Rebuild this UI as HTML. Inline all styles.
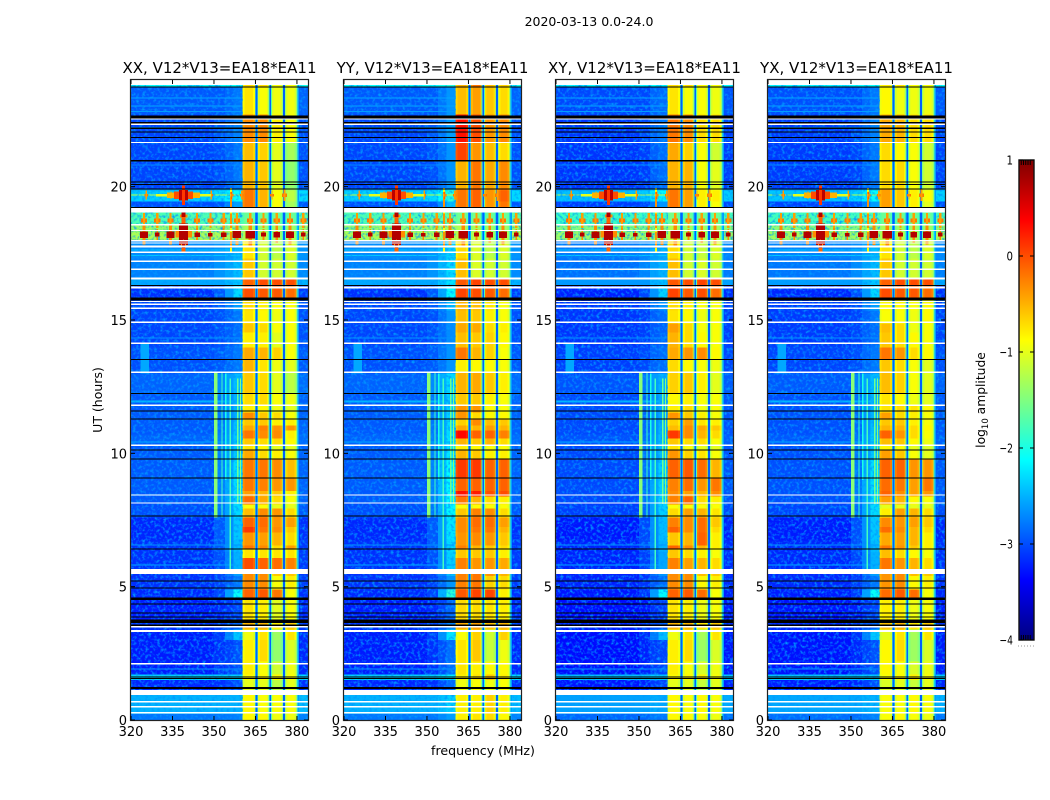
<!DOCTYPE html>
<html>
<head>
<meta charset="utf-8">
<title>2020-03-13 0.0-24.0</title>
<style>
html,body{margin:0;padding:0;background:#fff;}
svg{display:block;}
text{font-family:"DejaVu Sans","Liberation Sans",sans-serif;fill:#000;}
</style>
</head>
<body>
<svg id="chart" width="1050" height="800" viewBox="0 0 1050 800" xmlns="http://www.w3.org/2000/svg">
<defs>
<filter id="speckle" x="0" y="0" width="100%" height="100%" color-interpolation-filters="sRGB">
<feTurbulence type="fractalNoise" baseFrequency="0.33" numOctaves="2" seed="7"/>
<feColorMatrix type="matrix" values="0 0 0 0 0  0 0 0 0 0.6  0 0 0 0 1  2.6 0 0 0 -1.2"/>
</filter>
<linearGradient id="cbar-gradient" x1="0" y1="1" x2="0" y2="0"></linearGradient>
</defs>
<text x="589" y="26" font-size="12.5" text-anchor="middle">2020-03-13 0.0-24.0</text>
<text x="0" y="0" font-size="12.5" text-anchor="middle" transform="translate(102,400) rotate(-90)">UT (hours)</text>
<text x="483" y="755" font-size="12.6" text-anchor="middle">frequency (MHz)</text>
<text x="0" y="0" font-size="12.3" text-anchor="middle" transform="translate(985,400) rotate(-90)">log<tspan font-size="8.5" dy="3">10</tspan><tspan dy="-3"> amplitude</tspan></text>
</svg>
<script>
// ---- data ----
const panelTitles = ["XX, V12*V13=EA18*EA11","YY, V12*V13=EA18*EA11","XY, V12*V13=EA18*EA11","YX, V12*V13=EA18*EA11"];
const freqTicks = [320,335,350,365,380];
const hourTicks = [0,5,10,15,20];
const colorTicks = [1,0,-1,-2,-3,-4];
// Columns: MHz edges and the profile slot each column reads
// 0 bg, 1 mid, 2 shoulder-blend, 3 shoulder, 4-7 band core, 14-17 band margin, 8 gap, 9 flank, 10 upper edge, 11 outer edge
const colEdges = [320,350,354,357,360.4,
  361,364.2,364.8,365.1,365.7,366,
  366.6,369.1,369.7,370,370.6,370.9,
  371.5,374.1,374.7,375,375.6,375.9,
  376.5,379.2,379.8,380.2,380.8,384];
const colSlots = [0,1,2,3,
  14,4,14,9,8,9,
  15,5,15,9,8,9,
  16,6,16,9,8,9,
  17,7,17,9,10,11];
// Row start hours with log10 amplitude: bg, mid, shoulder, band1..band4
const rowProfiles = [
[0,-2.8,-2.8,-2.75,-.85,-.85,-.95,-.95],
[.22,-2.5,-2.5,-2.5,-.85,-.9,-.9,-.9],
[1.13,-3.2,-3.15,-3,-1,-1,-1.2,-1],
[1.5,-2.35,-2.35,-2.35,-.85,-.85,-.85,-.9],
[1.7,-3.25,-3.15,-3,-.8,-.9,-1.1,-.95],
[2.2,-3.25,-3.15,-3,-.8,-.7,-1.4,-1.05],
[3.0,-3.25,-3.1,-2.4,-.95,-.75,-1.35,-.75],
[3.4,-3.15,-3.05,-2.9,-.5,-.5,-.8,-.6],
[3.75,-3.25,-3.2,-3.05,-.75,-.8,-1,-.9],
[4.5,-3.2,-3.05,-2.1,-.1,-.05,-.2,-.9],
[4.9,-3.15,-3.05,-2.8,-.3,-.3,-.9,-.8],
[5.4,-3.15,-3.05,-2.6,-.3,-.3,-.6,-.6],
[5.66,-3.15,-3,-2.5,-.1,-.2,-.3,-.3],
[6.0,-3.15,-3,-2.5,-.9,-.9,-.9,-.9],
[6.3,-3.15,-2.95,-2.45,-.5,-.6,-.9,-.5],
[6.74,-3.2,-2.95,-2.4,-.1,-.3,-.3,-.4],
[7.6,-3,-2.8,-2.3,-.6,-.6,-.8,-.8],
[8.13,-2.95,-2.75,-2.3,-.3,-.4,-.5,-.5],
[9.06,-2.95,-2.75,-2.3,-.35,-.35,-.35,-.75],
[9.74,-2.95,-2.75,-2.4,-.8,-.8,-.8,-.85],
[10.3,-2.9,-2.75,-2.4,-.35,-.4,-.45,-.4],
[10.7,-2.95,-2.8,-2.45,-.6,-.7,-.8,-.9],
[11.2,-2.95,-2.8,-2.5,-.55,-.8,-.8,-.9],
[12.2,-2.9,-2.7,-2.45,-.6,-.6,-.8,-.9],
[13.0,-3,-2.95,-2.8,-.8,-.8,-.9,-.9],
[14.0,-3.05,-3,-2.85,-.75,-.85,-.95,-.9],
[14.87,-3.05,-3,-2.8,-.75,-.85,-.95,-.9],
[15.35,-3.05,-2.95,-2.6,-.7,-.8,-.9,-.9],
[15.8,-3.15,-2.95,-2.3,0,-.05,-.05,-.15],
[16.3,-2.55,-2.55,-2.4,-.1,0,0,0],
[16.55,-2.75,-2.65,-2.45,-.6,-1.1,-1.1,-1.1],
[17.3,-2.7,-2.65,-2.5,-.75,-1.1,-1.2,-1.05],
[18.0,-1.3,-1.3,-1.3,-1.2,-1.25,-1.3,-1.25],
[18.3,-1.4,-1.4,-1.4,-1.3,-1.35,-1.35,-1.35],
[18.55,-1.75,-1.75,-1.75,-1.6,-1.6,-1.6,-1.6],
[19.2,-3,-2.95,-2.6,-.2,-.5,-.9,-1.3],
[19.45,-2.35,-2.3,-2.1,-.2,-.5,-.9,-1.2],
[19.85,-2.6,-2.5,-2.4,-.2,-.5,-.9,-1.3],
[19.9,-3.05,-3,-2.8,-.5,-.6,-1,-1.4],
[21.0,-3.05,-3,-2.8,-.55,-.65,-1,-1.3],
[21.65,-3.05,-2.95,-2.75,-.3,-.3,-.8,-.9],
[22.7,-2.95,-2.95,-2.8,-.75,-.9,-.95,-.95],
[23.72,-2.1,-2.1,-2.1,-.7,-.7,-.9,-.9]
];
// Per-panel band offsets by time section (outside the 5.66-14.87 h detail block)
const sectionStarts = [0,5.5,15.7,19.2,19.95,22.7];
const xxOffsets = [[0,0,0,0],[0,0,0,0],[0,0,0,0],[0,0,0,0],[0,0,0,0],[0,0,0,0]];
const yyOffsets = [[.05,.1,.25,.1],[.2,.25,.15,0],[.05,.05,0,0],[0,.4,.55,1.1],[.6,.3,.45,.6],[.2,.5,.35,.25]];
const xyOffsets = [[0,0,.05,0],[0,0,0,0],[.05,0,.05,0],[0,.1,.1,.4],[.1,0,.1,.2],[0,0,.05,0]];
const yxOffsets = [[-.05,0,.05,0],[-.15,-.05,0,.05],[0,0,0,0],[-.2,-.1,.1,.3],[-.15,-.2,.1,.2],[-.1,-.05,0,0]];
const panelOffsets = [xxOffsets,yyOffsets,xyOffsets,yxOffsets];
const backgroundOffsets = [0,0,-.08,-.05];
const shoulderOffsets = [0,.15,-.05,0];
// Detailed band levels 5.66-14.87 h: row start hours, then band1..band4 for each polarisation
const midHours = [5.66,6.07,6.4,6.55,7.04,7.23,7.6,7.94,8.09,8.39,8.58,9.06,9.78,10.11,10.3,10.56,10.86,11.05,11.27,11.54,11.8,12.25,13.03,13.5,13.97,14.53];
const midEnd = 14.87;
const midXX = [[0,-.1,-.15,-.25],[-.75,-.75,-.75,-.75],[-.2,-.3,-.7,-.4],[-.35,-.4,-.5,-.7],[.1,-.2,-.3,-.6],[-.1,-.15,-.35,-.4],[-.55,-.3,-.35,-.7],[-.9,-.9,-1,-1],[-.15,-.45,-.7,-.9],[-.4,-.5,-.6,-.8],[-.2,-.25,-.35,-.35],[-.2,-.2,-.3,-.55],[-.45,-.7,-.8,-.9],[-.75,-.85,-1,-1],[-.6,-.7,-.7,-.85],[-.2,-.3,-.3,-.8],[-.45,-.25,-.35,-.35],[-.6,-.6,-.8,-.8],[-.3,-.6,-.7,-.9],[-.8,-.85,-.95,-1],[-.7,-.7,-.9,-.95],[-.6,-.7,-1,-1.2],[-.5,-.75,-.95,-1],[-.45,-.5,-.65,-.9],[-.8,-.8,-1,-.9],[-.6,-.7,-.9,-.9]];
const midYY = [[-.25,-.35,-.35,-.45],[-.6,-.6,-.6,-.8],[-.25,-.5,-.6,-.7],[-.35,-.3,-.35,-.6],[-.3,-.2,-.2,-.5],[-.3,-.15,-.15,-.4],[-.6,-.25,-.3,-.7],[-.9,-.9,-.9,-.9],[-.2,-.5,-.7,-.8],[.3,.25,0,0],[-.1,-.1,-.1,-.1],[.1,.1,-.1,-.1],[-.5,-.6,-.8,-.8],[-.8,-.85,-.9,-.9],[-.5,-.6,-.5,-.7],[.35,-.1,-.1,-.25],[-.45,-.5,-.4,-.5],[-.65,-.3,-.55,-.6],[-.35,-.7,-.85,-.85],[-.35,-.35,-.85,-.9],[-.6,-.6,-.8,-.9],[-.5,-.45,-.6,-.8],[-.8,-.85,-.85,-.9],[-.2,-.5,-.65,-.9],[-.55,-.6,-.65,-.85],[-.45,-.45,-.7,-.8]];
const midXY = [[-.25,-.4,-.5,-.7],[-.6,-.7,-.8,-.9],[-.1,-.3,-.5,-.8],[-.6,-.5,-.1,-.8],[-.1,-.3,-.15,-.7],[-.25,-.3,-.15,-.6],[-.7,-.4,-.5,-.75],[-.9,-.9,-.9,-.9],[-.25,-.1,-.7,-.8],[-.3,-.4,-.5,-.3],[-.25,-.15,-.35,-.2],[-.1,-.05,-.15,-.5],[-.35,-.65,-.75,-.9],[-.75,-.9,-1,-1],[-.6,-.7,-.7,-.9],[.1,-.3,-.5,-.7],[-.55,-.3,-.45,-.6],[-.65,-.4,-.75,-.8],[-.35,-.6,-.8,-.9],[-.8,-.7,-.95,-.9],[-.85,-.8,-.9,-.9],[-.65,-.6,-.8,-1],[-.7,-.85,-.9,-.95],[-.45,-.35,-.3,-.85],[-.5,-.7,-.85,-.9],[-.4,-.7,-.9,-.9]];
const midYX = [[-.2,-.35,-.5,-.7],[-.55,-.7,-.85,-.9],[-.2,-.35,-.6,-.8],[-.45,-.4,-.5,-.8],[-.15,-.3,-.5,-.7],[-.3,-.35,-.4,-.6],[-.8,-.4,-.5,-.7],[-1,-1,-1,-1],[-.4,-.5,-.85,-.9],[-.1,-.3,-.4,-.35],[-.15,-.2,-.4,-.2],[-.1,-.1,-.35,-.35],[-.4,-.6,-.9,-1],[-.85,-.9,-1,-1.05],[-.55,-.6,-.85,-.95],[-.1,-.35,-.7,-.9],[-.5,-.5,-.7,-.85],[-.6,-.6,-.8,-.9],[-.4,-.7,-.8,-.9],[-.75,-.7,-.75,-.85],[-.75,-.85,-.95,-1],[-.55,-.65,-.9,-1],[-.6,-.7,-.9,-1],[-.2,-.35,-.7,-.85],[-.6,-.7,-.85,-.9],[-.55,-.7,-.95,-.9]];
const midBands = [midXX,midYY,midXY,midYX];
// Bright horizontal streaks in background: hour, value
const bgStreaks = [[23.3,-2.55],[23.0,-2.55],[22.8,-2.6],[22.2,-2.65],[20.8,-2.7],[19.66,-1.2],[14.3,-2.65],[11.95,-2.45],[11.9,-2.5],[10.4,-2.55],[6.55,-2.65],[5.8,-2.55],[1.9,-2.65],[16.9,-2.35],[17.6,-2.35],[17.4,-2.4]];
// Narrow vertical interference: MHz centre, MHz width, start hour, end hour, value
const verticalLines = [[350.7,1.3,7.6,13.05,-1.45],[352.9,.5,7.6,13.05,-1.8],[354.2,.5,9,13,-2],[355.9,.45,5.6,12.8,-1.8],[358.6,.5,8.1,12.8,-1.6],[359.6,.5,8.1,12.8,-1.45],[325,3,13,14.1,-2.55]];
// Interference peaks
const combFreqs = [324.7,329.5,334.3,343.9,348.7,353.5,358.3,363.1,367.9,372.7,377.5,382.3];
const combLowerSizes = [1,.6,1,.7,.55,.7,1.1,1.2,.6,.9,1,.6];
const combUpperHour = 18.73;
const combLowerHour = 18.2;
const upperHalfWidths = [1.1,.4];
const upperHalfHeights = [.08,.28];
const upperValues = [-.2,-.4];
const lowerHalfWidths = [.5,1.4];
const lowerHalfHeights = [.36,.12];
const lowerValues = [-.3,.75];
const mainPeakFreq = 339;
const mainPeakHour = 19.68;
const mainHalfWidths = [10,6,3.5,1.7,.5];
const mainHalfHeights = [.04,.1,.14,.2,.36];
const mainValues = [-1,-.5,0,.7,.1];
const centralCombHours = [18.9,18.22,17.82];
const centralCombSizes = [.45,1,.3];
const centralHalfWidths = [.7,3,1.7];
const centralHalfHeights = [.65,.12,.4];
const centralValues = [-.1,-.3,.75];
const topRowFreqs = [325.5,334.5,349,356.5,360,371,375.5];
const topRowSizes = [.6,.5,.6,.5,.6,.6,.8];
const spurFreq = 356.2;
const spurHours = [19.5,18.7,18.0];
// Flagged time ranges shown as white or black rows
const whiteFlags = [[23.82,24],[22.51,22.56],[22.32,22.38],[21.63,21.68],[19.03,19.2],[18.55,18.6],[18.33,18.38],[17.95,18],[17.86,17.91],[17.72,17.79],[17.51,17.56],[17.18,17.23],[16.88,16.93],[16.52,16.6],[16.18,16.25],[15.67,15.72],[15.56,15.61],[15.41,15.46],[14.89,14.94],[14.1,14.15],[13.02,13.07],[11.78,11.83],[10.28,10.33],[8.41,8.46],[8.11,8.16],[5.47,5.66],[3.47,3.52],[3.3,3.37],[2.08,2.13],[.94,1.13],[.66,.72],[.47,.53],[.24,.3]];
const blackFlags = [[23.72,23.76],[22.56,22.66],[22.37,22.43],[22.17,22.21],[22.03,22.07],[21.82,21.86],[20.94,21],[20.15,20.19],[20.06,20.1],[19.89,19.93],[19.2,19.24],[16.27,16.31],[15.73,15.85],[13.5,13.54],[12.23,12.27],[11.56,11.6],[11.26,11.3],[10.1,10.14],[9.76,9.8],[9.05,9.09],[7.63,7.67],[6.39,6.43],[5.2,5.24],[4.93,4.97],[4.5,4.6],[4.33,4.37],[4.0,4.04],[3.85,3.89],[3.63,3.76],[3.53,3.58],[1.6,1.64],[1.53,1.57],[1.16,1.24]];
const minorColorTicks = [.15,.3,.45,.6,.75];

// ---- layout and scales ----
const NS = "http://www.w3.org/2000/svg";
const svg = document.getElementById("chart");
const panelLefts = [131,344,556,768];
const panelWidth = 177, plotTop = 80, plotBottom = 720;
const F_MIN = 320, F_MAX = 384, H_MAX = 24, V_MIN = -4, V_MAX = 1;
const xScale = (p, f) => panelLefts[p] + (f - F_MIN) / (F_MAX - F_MIN) * panelWidth;
const yScale = h => plotBottom - h / H_MAX * (plotBottom - plotTop);
const clip = v => Math.max(0, Math.min(1, v));
function jet(v) {
  const t = clip((v - V_MIN) / (V_MAX - V_MIN));
  const r = clip(Math.min(4*t-1.5, -4*t+4.5));
  const g = clip(Math.min(4*t-.5, -4*t+3.5));
  const b = clip(Math.min(4*t+.5, -4*t+2.5));
  return "rgb(" + Math.round(r*255) + "," + Math.round(g*255) + "," + Math.round(b*255) + ")";
}
function make(tag, attrs, parent) {
  const el = document.createElementNS(NS, tag);
  for (const k in attrs) el.setAttribute(k, attrs[k]);
  parent.appendChild(el);
  return el;
}
function box(p, f0, f1, h0, h1, fill, parent) {
  const x0 = xScale(p, f0), x1 = xScale(p, f1), y0 = yScale(h1), y1 = yScale(h0);
  return make("rect", {x: x0, y: y0, width: Math.max(x1 - x0, .5), height: Math.max(y1 - y0, .5), fill: fill, "shape-rendering": "crispEdges"}, parent);
}
function sectionIndex(h) {
  let s = 0;
  sectionStarts.forEach((start, i) => { if (h >= start) s = i; });
  return s;
}
const isBandSlot = slot => (slot >= 4 && slot <= 7) || (slot >= 14 && slot <= 17);
function bandFromSlot(slot, bands) {
  if (slot >= 14) return bands[slot - 14] - .12;
  return bands[slot - 4];
}
function slotValue(row, slot, p) {
  if (slot === 0) return row[1] + backgroundOffsets[p];
  if (slot === 1) return row[2] + backgroundOffsets[p];
  if (slot === 2) return (row[2] + row[3]) / 2 + shoulderOffsets[p] / 2;
  if (slot === 3) return row[3] + shoulderOffsets[p];
  if (slot === 8) return -2.9;
  if (slot === 9) return Math.min(-1.7, row[4] - .9);
  if (slot === 10) return -2.6;
  return row[1] + backgroundOffsets[p] + .05;
}
function drawShape(p, f, h, size, widths, heights, values, parent) {
  widths.forEach((w, i) => {
    const cell = box(p, f - w*size, f + w*size, h - heights[i]*size, h + heights[i]*size, jet(values[i]), parent);
    
    
  });
}

// ---- panels ----
panelTitles.forEach((title, p) => {
  const g = make("g", {}, svg);
  
  
  const cp = make("clipPath", {id: "clip" + p}, g);
  make("rect", {x: panelLefts[p], y: plotTop, width: panelWidth, height: plotBottom - plotTop}, cp);
  const plot = make("g", {"clip-path": "url(#clip" + p + ")"}, g);
  
  
  rowProfiles.forEach((row, r) => {
    const h0 = row[0], h1 = r + 1 < rowProfiles.length ? rowProfiles[r + 1][0] : H_MAX;
    const off = panelOffsets[p][sectionIndex(h0)];
    const bands = [row[4] + off[0], row[5] + off[1], row[6] + off[2], row[7] + off[3]];
    const inMid = h0 >= midHours[0] && h0 < midEnd;
    colSlots.forEach((slot, c) => {
      if (isBandSlot(slot) && inMid) return;
      const v = isBandSlot(slot) ? bandFromSlot(slot, bands) : slotValue(row, slot, p);
      const cell = box(p, colEdges[c], colEdges[c + 1], h0, h1, jet(v), plot);
      
      
    });
  });
  midHours.forEach((h0, r) => {
    const h1 = r + 1 < midHours.length ? midHours[r + 1] : midEnd;
    colSlots.forEach((slot, c) => {
      if (!isBandSlot(slot)) return;
      const cell = box(p, colEdges[c], colEdges[c + 1], h0, h1, jet(bandFromSlot(slot, midBands[p][r])), plot);
      
      
    });
  });
  bgStreaks.forEach(st => {
    const line = box(p, 320, 360, st[0], st[0] + .04, jet(st[1]), plot);
    
    
  });
  // speckle texture on the out-of-band background
  [[320,360.4],[381,384]].forEach(range => {
    const n = make("rect", {x: xScale(p, range[0]), y: plotTop, width: xScale(p, range[1]) - xScale(p, range[0]), height: plotBottom - plotTop, filter: "url(#speckle)"}, plot);
    
    
  });
  verticalLines.forEach(v => {
    const line = box(p, v[0] - v[1]/2, v[0] + v[1]/2, v[2], v[3], jet(v[4]), plot);
    
    
  });
  spurHours.forEach(h => drawShape(p, spurFreq, h, 1, [.35,.2], [.45,.3], [-.9,.2], plot));
  combFreqs.forEach((f, i) => {
    drawShape(p, f, combUpperHour, 1, upperHalfWidths, upperHalfHeights, upperValues, plot);
    drawShape(p, f, combLowerHour, combLowerSizes[i], lowerHalfWidths, lowerHalfHeights, lowerValues, plot);
  });
  topRowFreqs.forEach((f, i) => drawShape(p, f, mainPeakHour, topRowSizes[i], upperHalfWidths, upperHalfHeights, upperValues, plot));
  centralCombHours.forEach((h, i) => drawShape(p, mainPeakFreq, h, centralCombSizes[i], centralHalfWidths, centralHalfHeights, centralValues, plot));
  drawShape(p, mainPeakFreq, mainPeakHour, 1, mainHalfWidths, mainHalfHeights, mainValues, plot);
  whiteFlags.forEach(fl => {
    const cell = box(p, F_MIN, F_MAX, fl[0], fl[1], "#fff", plot);
    
    
  });
  blackFlags.forEach(fl => {
    const cell = box(p, F_MIN, F_MAX, fl[0], fl[1], "#000", plot);
    
    
  });
  const frame = make("rect", {x: panelLefts[p] - .5, y: plotTop - .5, width: panelWidth + 1, height: plotBottom - plotTop + 1, fill: "none", stroke: "#222", "stroke-width": 1.2}, g);
  
  
  freqTicks.forEach(f => {
    const x = xScale(p, f);
    const t1 = make("line", {x1: x, x2: x, y1: plotBottom, y2: plotBottom - 4, stroke: "#000"}, g);
    
    
    const t2 = make("line", {x1: x, x2: x, y1: plotTop, y2: plotTop + 4, stroke: "#000"}, g);
    
    
    const lab = make("text", {x: x, y: 736, "font-size": 13, "text-anchor": "middle"}, g);
    lab.textContent = f;
    
    
  });
  hourTicks.forEach(h => {
    const y = yScale(h);
    const t1 = make("line", {x1: panelLefts[p], x2: panelLefts[p] + 4, y1: y, y2: y, stroke: "#000"}, g);
    
    
    const t2 = make("line", {x1: panelLefts[p] + panelWidth, x2: panelLefts[p] + panelWidth - 4, y1: y, y2: y, stroke: "#000"}, g);
    
    
    const lab = make("text", {x: panelLefts[p] - 4, y: y + 5, "font-size": 13, "text-anchor": "end"}, g);
    lab.textContent = h;
    
    
  });
  const tt = make("text", {x: panelLefts[p] + panelWidth / 2, y: 73, "font-size": 15, "text-anchor": "middle"}, g);
  tt.textContent = title;
  
  
});

// ---- colorbar ----
const cbX = 1019, cbW = 15, cbTop = 160, cbBottom = 640;
const cbY = v => cbBottom - (v - V_MIN) / (V_MAX - V_MIN) * (cbBottom - cbTop);
const grad = document.getElementById("cbar-gradient");
for (let i = 0; i <= 64; i++) {
  make("stop", {offset: (i / 64 * 100) + "%", "stop-color": jet(V_MIN + i / 64 * (V_MAX - V_MIN))}, grad);
}
const cg = make("g", {}, svg);


const bar = make("rect", {x: cbX, y: cbTop, width: cbW, height: cbBottom - cbTop, fill: "url(#cbar-gradient)", stroke: "#111", "stroke-width": 1.4}, cg);


colorTicks.forEach(v => {
  const y = cbY(v);
  const l1 = make("line", {x1: cbX, x2: cbX + 4, y1: y, y2: y, stroke: "#000"}, cg);
  
  
  const l2 = make("line", {x1: cbX + cbW, x2: cbX + cbW - 4, y1: y, y2: y, stroke: "#000"}, cg);
  
  
  const lab = make("text", {x: cbX - 6, y: y + 4.5, "font-size": 12.5, "text-anchor": "end", textLength: v < 0 ? 13.5 : 6.5, lengthAdjust: "spacingAndGlyphs"}, cg);
  lab.textContent = v < 0 ? "\u2212" + Math.abs(v) : String(v);
  
  
});
minorColorTicks.forEach(fr => {
  [[V_MAX, 1],[V_MIN, -1]].forEach(end => {
    const x = cbX + cbW * fr;
    const m = make("line", {x1: x, x2: x, y1: cbY(end[0]), y2: cbY(end[0]) + 5 * end[1], stroke: "#000"}, cg);
    
    
  });
});
for (let i = 0; i < 6; i++) {
  const d = make("rect", {x: 1018 + i * 3, y: 645.5, width: 1, height: 1, fill: "#999"}, cg);
  
  
}
</script>
</body>
</html>
